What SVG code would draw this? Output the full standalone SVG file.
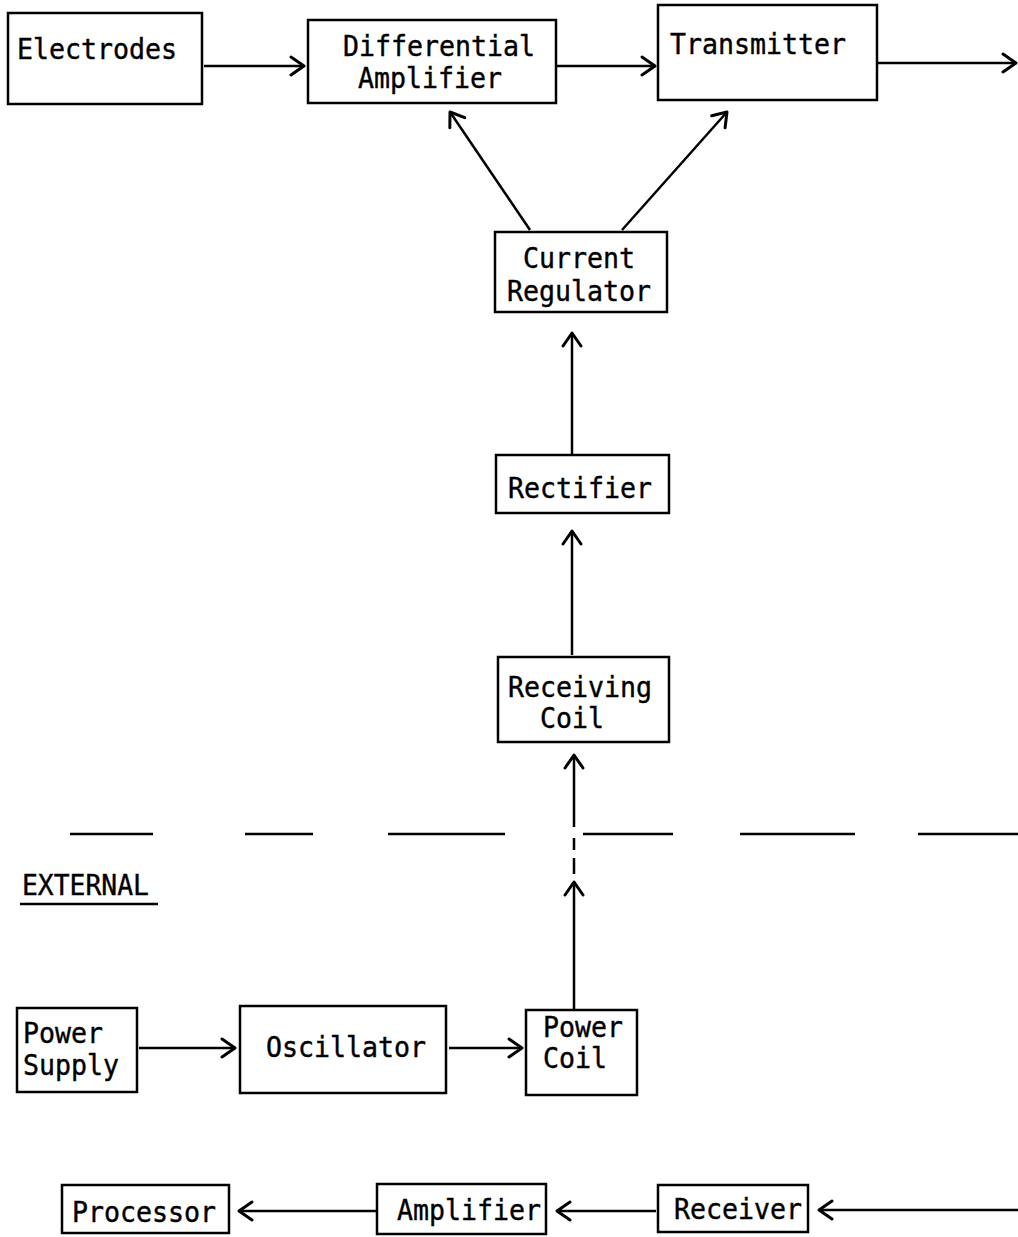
<svg xmlns="http://www.w3.org/2000/svg" width="1018" height="1237" viewBox="0 0 1018 1237">
<defs>
<style>
.box{fill:#fff;stroke:#000;stroke-width:2.5}
.t{font-family:"DejaVu Sans Mono","Liberation Mono",monospace;font-size:27.5px;fill:#000;stroke:#000;stroke-width:0.4}
.c line{stroke:#000;stroke-width:2.5;fill:none}
.ah{stroke:#000;stroke-width:3;fill:none;stroke-linecap:round;stroke-linejoin:round}
</style>
<marker id="a" viewBox="-16 -11 18 22" markerWidth="18" markerHeight="22" refX="0" refY="0" orient="auto" markerUnits="userSpaceOnUse">
<path class="ah" d="M-13,-9 L0,0 L-13,9"/>
</marker>
</defs>
<rect width="1018" height="1237" fill="#fff"/>
<g class="c" id="connectors">
<line x1="204" y1="66" x2="304" y2="66" marker-end="url(#a)"/>
<line x1="557" y1="66" x2="655" y2="66" marker-end="url(#a)"/>
<line x1="878" y1="63" x2="1016" y2="63" marker-end="url(#a)"/>
<line x1="530" y1="230" x2="450" y2="112" marker-end="url(#a)"/>
<line x1="622" y1="230" x2="727" y2="112" marker-end="url(#a)"/>
<line x1="572" y1="455" x2="572" y2="333" marker-end="url(#a)"/>
<line x1="572" y1="655" x2="572" y2="531" marker-end="url(#a)"/>
<line x1="574" y1="827" x2="574" y2="755" marker-end="url(#a)"/>
<line x1="574" y1="838" x2="574" y2="850"/>
<line x1="574" y1="858" x2="574" y2="874"/>
<line x1="574" y1="1010" x2="574" y2="882" marker-end="url(#a)"/>
<line x1="139" y1="1048" x2="235" y2="1048" marker-end="url(#a)"/>
<line x1="449" y1="1048" x2="522" y2="1048" marker-end="url(#a)"/>
<line x1="1018" y1="1210" x2="819" y2="1210" marker-end="url(#a)"/>
<line x1="656" y1="1211" x2="557" y2="1211" marker-end="url(#a)"/>
<line x1="376" y1="1211" x2="239" y2="1211" marker-end="url(#a)"/>
</g>
<g id="boundary">
<g stroke="#000" stroke-width="2.5">
<line x1="70" y1="834" x2="153" y2="834"/>
<line x1="245" y1="834" x2="313" y2="834"/>
<line x1="388" y1="834" x2="505" y2="834"/>
<line x1="583" y1="834" x2="673" y2="834"/>
<line x1="740" y1="834" x2="855" y2="834"/>
<line x1="918" y1="834" x2="1018" y2="834"/>
<line x1="20" y1="904" x2="158" y2="904"/>
</g>
<text class="t" x="22" y="895" textLength="127" lengthAdjust="spacingAndGlyphs">EXTERNAL</text>
</g>
<g id="electrodes"><rect class="box" x="8" y="13" width="194" height="91"/><text class="t" x="17" y="59" textLength="160" lengthAdjust="spacingAndGlyphs">Electrodes</text></g>
<g id="diffamp"><rect class="box" x="308" y="20" width="248" height="83"/><text class="t" x="343" y="56" textLength="192" lengthAdjust="spacingAndGlyphs">Differential</text><text class="t" x="358" y="88" textLength="144" lengthAdjust="spacingAndGlyphs">Amplifier</text></g>
<g id="transmitter"><rect class="box" x="658" y="5" width="219" height="95"/><text class="t" x="670" y="54" textLength="176" lengthAdjust="spacingAndGlyphs">Transmitter</text></g>
<g id="currentreg"><rect class="box" x="495" y="232" width="172" height="80"/><text class="t" x="523" y="268" textLength="112" lengthAdjust="spacingAndGlyphs">Current</text><text class="t" x="507" y="301" textLength="144" lengthAdjust="spacingAndGlyphs">Regulator</text></g>
<g id="rectifier"><rect class="box" x="496" y="455" width="173" height="58"/><text class="t" x="508" y="498" textLength="144" lengthAdjust="spacingAndGlyphs">Rectifier</text></g>
<g id="receivingcoil"><rect class="box" x="498" y="657" width="171" height="85"/><text class="t" x="508" y="697" textLength="144" lengthAdjust="spacingAndGlyphs">Receiving</text><text class="t" x="540" y="728" textLength="64" lengthAdjust="spacingAndGlyphs">Coil</text></g>
<g id="powersupply"><rect class="box" x="17" y="1008" width="120" height="84"/><text class="t" x="23" y="1043" textLength="80" lengthAdjust="spacingAndGlyphs">Power</text><text class="t" x="23" y="1075" textLength="96" lengthAdjust="spacingAndGlyphs">Supply</text></g>
<g id="oscillator"><rect class="box" x="240" y="1006" width="206" height="87"/><text class="t" x="266" y="1057" textLength="160" lengthAdjust="spacingAndGlyphs">Oscillator</text></g>
<g id="powercoil"><rect class="box" x="526" y="1010" width="111" height="85"/><text class="t" x="543" y="1037" textLength="80" lengthAdjust="spacingAndGlyphs">Power</text><text class="t" x="543" y="1068" textLength="64" lengthAdjust="spacingAndGlyphs">Coil</text></g>
<g id="processor"><rect class="box" x="62" y="1185" width="167" height="48"/><text class="t" x="72" y="1222" textLength="144" lengthAdjust="spacingAndGlyphs">Processor</text></g>
<g id="amplifier"><rect class="box" x="377" y="1184" width="169" height="50"/><text class="t" x="397" y="1220" textLength="144" lengthAdjust="spacingAndGlyphs">Amplifier</text></g>
<g id="receiver"><rect class="box" x="658" y="1185" width="150" height="47"/><text class="t" x="674" y="1219" textLength="128" lengthAdjust="spacingAndGlyphs">Receiver</text></g>
</svg>
